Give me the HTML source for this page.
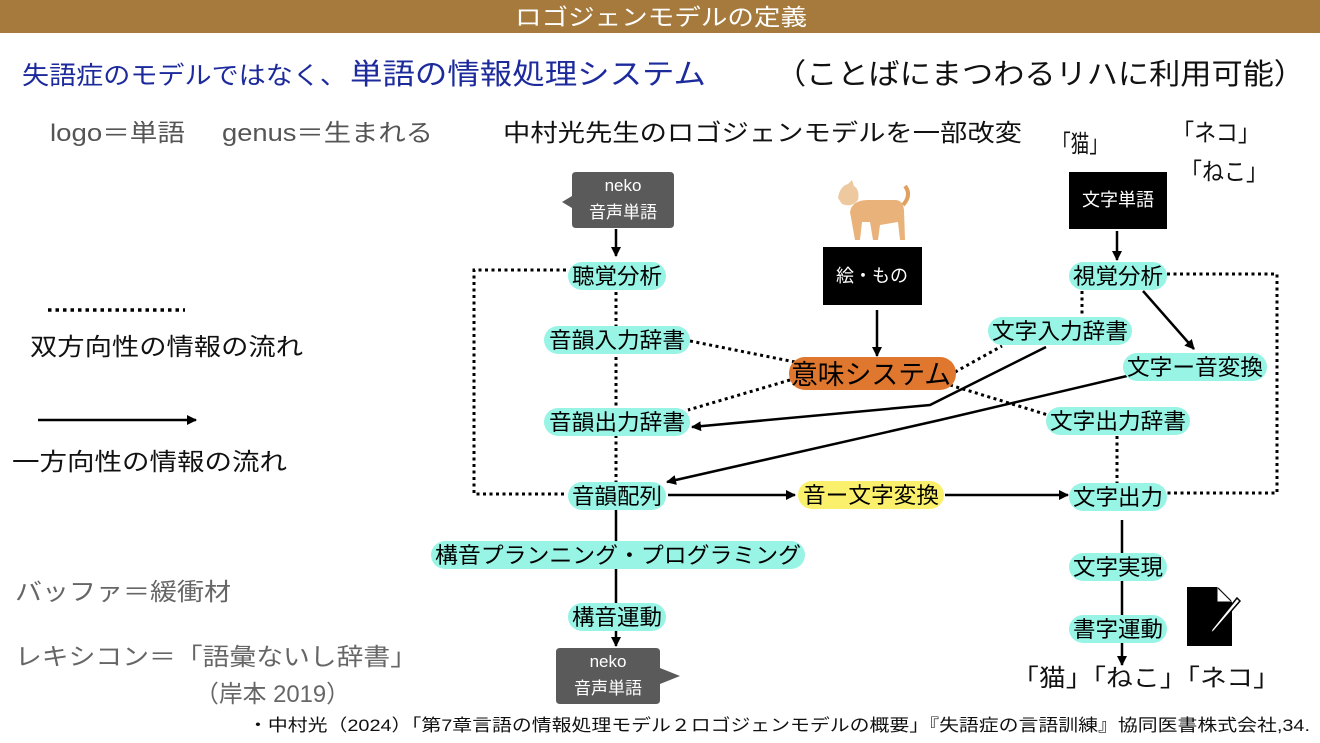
<!DOCTYPE html>
<html><head><meta charset="utf-8"><style>
html,body{margin:0;padding:0;background:#fff;}
svg{display:block;font-family:"Liberation Sans","Noto Sans CJK JP",sans-serif;}
</style></head><body>
<svg width="1320" height="743" viewBox="0 0 1320 743" xmlns="http://www.w3.org/2000/svg">
<defs>
<marker id="ah" markerWidth="10" markerHeight="10" refX="9" refY="5" orient="auto" markerUnits="userSpaceOnUse" viewBox="0 0 10 10">
<path d="M0,0 L10,5 L0,10 z" fill="#000"/></marker>
</defs>
<rect x="0" y="0" width="1320" height="33" fill="#a57a3c"/>
<text x="515" y="25" font-size="23" fill="#fff" textLength="292" lengthAdjust="spacingAndGlyphs">ロゴジェンモデルの定義</text>

<text x="22" y="84" font-size="25" fill="#1c2a9c" textLength="325" lengthAdjust="spacingAndGlyphs">失語症のモデルではなく、</text>
<text x="350" y="84" font-size="29" fill="#1c2a9c" textLength="356" lengthAdjust="spacingAndGlyphs">単語の情報処理システム</text>
<text x="775" y="84" font-size="29" fill="#111" textLength="530" lengthAdjust="spacingAndGlyphs">（ことばにまつわるリハに利用可能）</text>

<text x="50" y="141" font-size="24" fill="#555" textLength="135" lengthAdjust="spacingAndGlyphs">logo＝単語</text>
<text x="222" y="141" font-size="24" fill="#555" textLength="211" lengthAdjust="spacingAndGlyphs">genus＝生まれる</text>
<text x="503" y="141" font-size="24" fill="#111" textLength="519" lengthAdjust="spacingAndGlyphs">中村光先生のロゴジェンモデルを一部改変</text>
<text x="1052" y="152" font-size="24" fill="#111" textLength="56" lengthAdjust="spacingAndGlyphs">「猫」</text>
<text x="1172" y="141" font-size="24" fill="#111" textLength="88" lengthAdjust="spacingAndGlyphs">「ネコ」</text>
<text x="1180" y="180" font-size="24" fill="#111" textLength="88" lengthAdjust="spacingAndGlyphs">「ねこ」</text>

<line x1="48" y1="310" x2="185" y2="310" stroke="#000" stroke-width="3.5" stroke-dasharray="3.5,4"/>
<text x="30" y="355" font-size="24" fill="#111" textLength="273" lengthAdjust="spacingAndGlyphs">双方向性の情報の流れ</text>
<line x1="38" y1="420" x2="196" y2="420" stroke="#000" stroke-width="2.5" marker-end="url(#ah)"/>
<text x="12" y="470" font-size="24" fill="#111" textLength="275" lengthAdjust="spacingAndGlyphs">一方向性の情報の流れ</text>
<text x="15" y="600" font-size="24" fill="#666" textLength="216" lengthAdjust="spacingAndGlyphs">バッファ＝緩衝材</text>
<text x="15" y="665" font-size="24" fill="#666" textLength="402" lengthAdjust="spacingAndGlyphs">レキシコン＝「語彙ないし辞書」</text>
<text x="195" y="702" font-size="24" fill="#666" textLength="155" lengthAdjust="spacingAndGlyphs">（岸本 2019）</text>
<text x="248" y="731" font-size="17" fill="#111" textLength="1062" lengthAdjust="spacingAndGlyphs">・中村光（2024）「第7章言語の情報処理モデル２ロゴジェンモデルの概要」『失語症の言語訓練』協同医書株式会社,34.</text>

<g stroke="#000" stroke-width="3" stroke-dasharray="3,3.5" fill="none">
<polyline points="566,270 474,270 474,494 566,494"/>
<line x1="616" y1="292" x2="616" y2="482"/>
<polyline points="1167,274 1277,274 1277,493 1167,493"/>
<line x1="1082" y1="291" x2="1082" y2="318"/>
<line x1="1117" y1="436" x2="1117" y2="484"/>
<line x1="690" y1="341" x2="795" y2="362"/>
<line x1="790" y1="380" x2="688" y2="410"/>
<line x1="955" y1="372" x2="1002" y2="346"/>
<line x1="950" y1="385" x2="1048" y2="415"/>
</g>
<g stroke="#000" stroke-width="2.5" fill="none">
<line x1="616" y1="229" x2="616" y2="256" marker-end="url(#ah)"/>
<line x1="877" y1="310" x2="877" y2="356" marker-end="url(#ah)"/>
<line x1="1117" y1="231" x2="1117" y2="260" marker-end="url(#ah)"/>
<line x1="1143" y1="291" x2="1194" y2="349" marker-end="url(#ah)"/>
<polyline points="1046,347 930,405 692,427" marker-end="url(#ah)"/>
<polyline points="1127,376 940,420 667,482" marker-end="url(#ah)"/>
<line x1="668" y1="495" x2="795" y2="495" marker-end="url(#ah)"/>
<line x1="945" y1="495" x2="1068" y2="495" marker-end="url(#ah)"/>
<line x1="616" y1="510" x2="616" y2="646" marker-end="url(#ah)"/>
<line x1="1122" y1="520" x2="1122" y2="665" marker-end="url(#ah)"/>
</g>

<path d="M576,172 H670 Q674,172 674,176 V224 Q674,228 670,228 H576 Q572,228 572,224 V208 L562,202 L572,196 V176 Q572,172 576,172z" fill="#5a5a5a"/>
<text x="623" y="191" font-size="17" fill="#fff" text-anchor="middle">neko</text>
<text x="623" y="218" font-size="17" fill="#fff" text-anchor="middle">音声単語</text>
<path d="M560,648 H656 Q660,648 660,652 V668 L680,676 L660,684 V700 Q660,704 656,704 H560 Q556,704 556,700 V652 Q556,648 560,648z" fill="#5a5a5a"/>
<text x="608" y="667" font-size="17" fill="#fff" text-anchor="middle">neko</text>
<text x="608" y="694" font-size="17" fill="#fff" text-anchor="middle">音声単語</text>

<rect x="823" y="247" width="99" height="58" fill="#000"/>
<text x="872" y="282" font-size="18" fill="#fff" text-anchor="middle">絵・もの</text>
<rect x="1069" y="172" width="98" height="57" fill="#000"/>
<text x="1118" y="206" font-size="18" fill="#fff" text-anchor="middle">文字単語</text>

<g>
<path d="M850,212 Q852,200 868,200 L895,200 Q903,200 904,210 L905,240 L900,240 L898,222 L880,225 L878,240 L873,240 L870,222 L862,222 L860,240 L855,240 Z" fill="#e9b27a"/>
<path d="M838,198 Q840,186 848,184 L852,180 L854,186 Q860,190 858,200 Q852,208 842,204 Z" fill="#eec9a0"/>
<path d="M903,205 Q912,195 905,186" stroke="#e0a060" stroke-width="4" fill="none"/>
</g>

<g font-size="22" text-anchor="middle" fill="#000" lengthAdjust="spacingAndGlyphs">
<rect x="568" y="262" width="98" height="28" rx="14" fill="#98f4e4"/><text x="617" y="284" textLength="90" lengthAdjust="spacingAndGlyphs">聴覚分析</text>
<rect x="544" y="326" width="146" height="28" rx="14" fill="#98f4e4"/><text x="617" y="348" textLength="136" lengthAdjust="spacingAndGlyphs">音韻入力辞書</text>
<rect x="544" y="408" width="146" height="28" rx="14" fill="#98f4e4"/><text x="617" y="430" textLength="136" lengthAdjust="spacingAndGlyphs">音韻出力辞書</text>
<rect x="568" y="482" width="98" height="28" rx="14" fill="#98f4e4"/><text x="617" y="504" textLength="90" lengthAdjust="spacingAndGlyphs">音韻配列</text>
<rect x="431" y="541" width="374" height="28" rx="14" fill="#98f4e4"/><text x="618" y="563" textLength="366" lengthAdjust="spacingAndGlyphs">構音プランニング・プログラミング</text>
<rect x="568" y="603" width="98" height="28" rx="14" fill="#98f4e4"/><text x="617" y="625" textLength="90" lengthAdjust="spacingAndGlyphs">構音運動</text>
<rect x="798" y="481" width="146" height="28" rx="14" fill="#fbf06c"/><text x="871" y="503" textLength="136" lengthAdjust="spacingAndGlyphs">音ー文字変換</text>
<rect x="1069" y="262" width="98" height="28" rx="14" fill="#98f4e4"/><text x="1118" y="284" textLength="90" lengthAdjust="spacingAndGlyphs">視覚分析</text>
<rect x="988" y="317" width="144" height="28" rx="14" fill="#98f4e4"/><text x="1060" y="339" textLength="136" lengthAdjust="spacingAndGlyphs">文字入力辞書</text>
<rect x="1123" y="353" width="144" height="28" rx="14" fill="#98f4e4"/><text x="1195" y="375" textLength="136" lengthAdjust="spacingAndGlyphs">文字ー音変換</text>
<rect x="1046" y="407" width="144" height="28" rx="14" fill="#98f4e4"/><text x="1118" y="429" textLength="136" lengthAdjust="spacingAndGlyphs">文字出力辞書</text>
<rect x="1069" y="483" width="98" height="28" rx="14" fill="#98f4e4"/><text x="1118" y="505" textLength="90" lengthAdjust="spacingAndGlyphs">文字出力</text>
<rect x="1069" y="553" width="98" height="28" rx="14" fill="#98f4e4"/><text x="1118" y="575" textLength="90" lengthAdjust="spacingAndGlyphs">文字実現</text>
<rect x="1069" y="615" width="98" height="28" rx="14" fill="#98f4e4"/><text x="1118" y="637" textLength="90" lengthAdjust="spacingAndGlyphs">書字運動</text>
</g>
<rect x="789" y="357" width="167" height="33" rx="16" fill="#e0772e"/>
<text x="871" y="384" font-size="27" text-anchor="middle" fill="#000" textLength="160" lengthAdjust="spacingAndGlyphs">意味システム</text>

<path d="M1187,587 H1218 L1232,601 V646 H1187 Z" fill="#000"/>
<path d="M1218,587 V601 H1232" fill="#fff" stroke="#fff" stroke-width="1"/>
<path d="M1218,588 L1231,601" stroke="#000" stroke-width="1"/>
<path d="M1240,601 L1214,631 L1210,634 L1212,629 L1237,598 Z" fill="#fff" stroke="#000" stroke-width="1.5"/>

<text x="1012" y="686" font-size="24" fill="#111" textLength="268" lengthAdjust="spacingAndGlyphs">「猫」「ねこ」「ネコ」</text>
</svg>
</body></html>
